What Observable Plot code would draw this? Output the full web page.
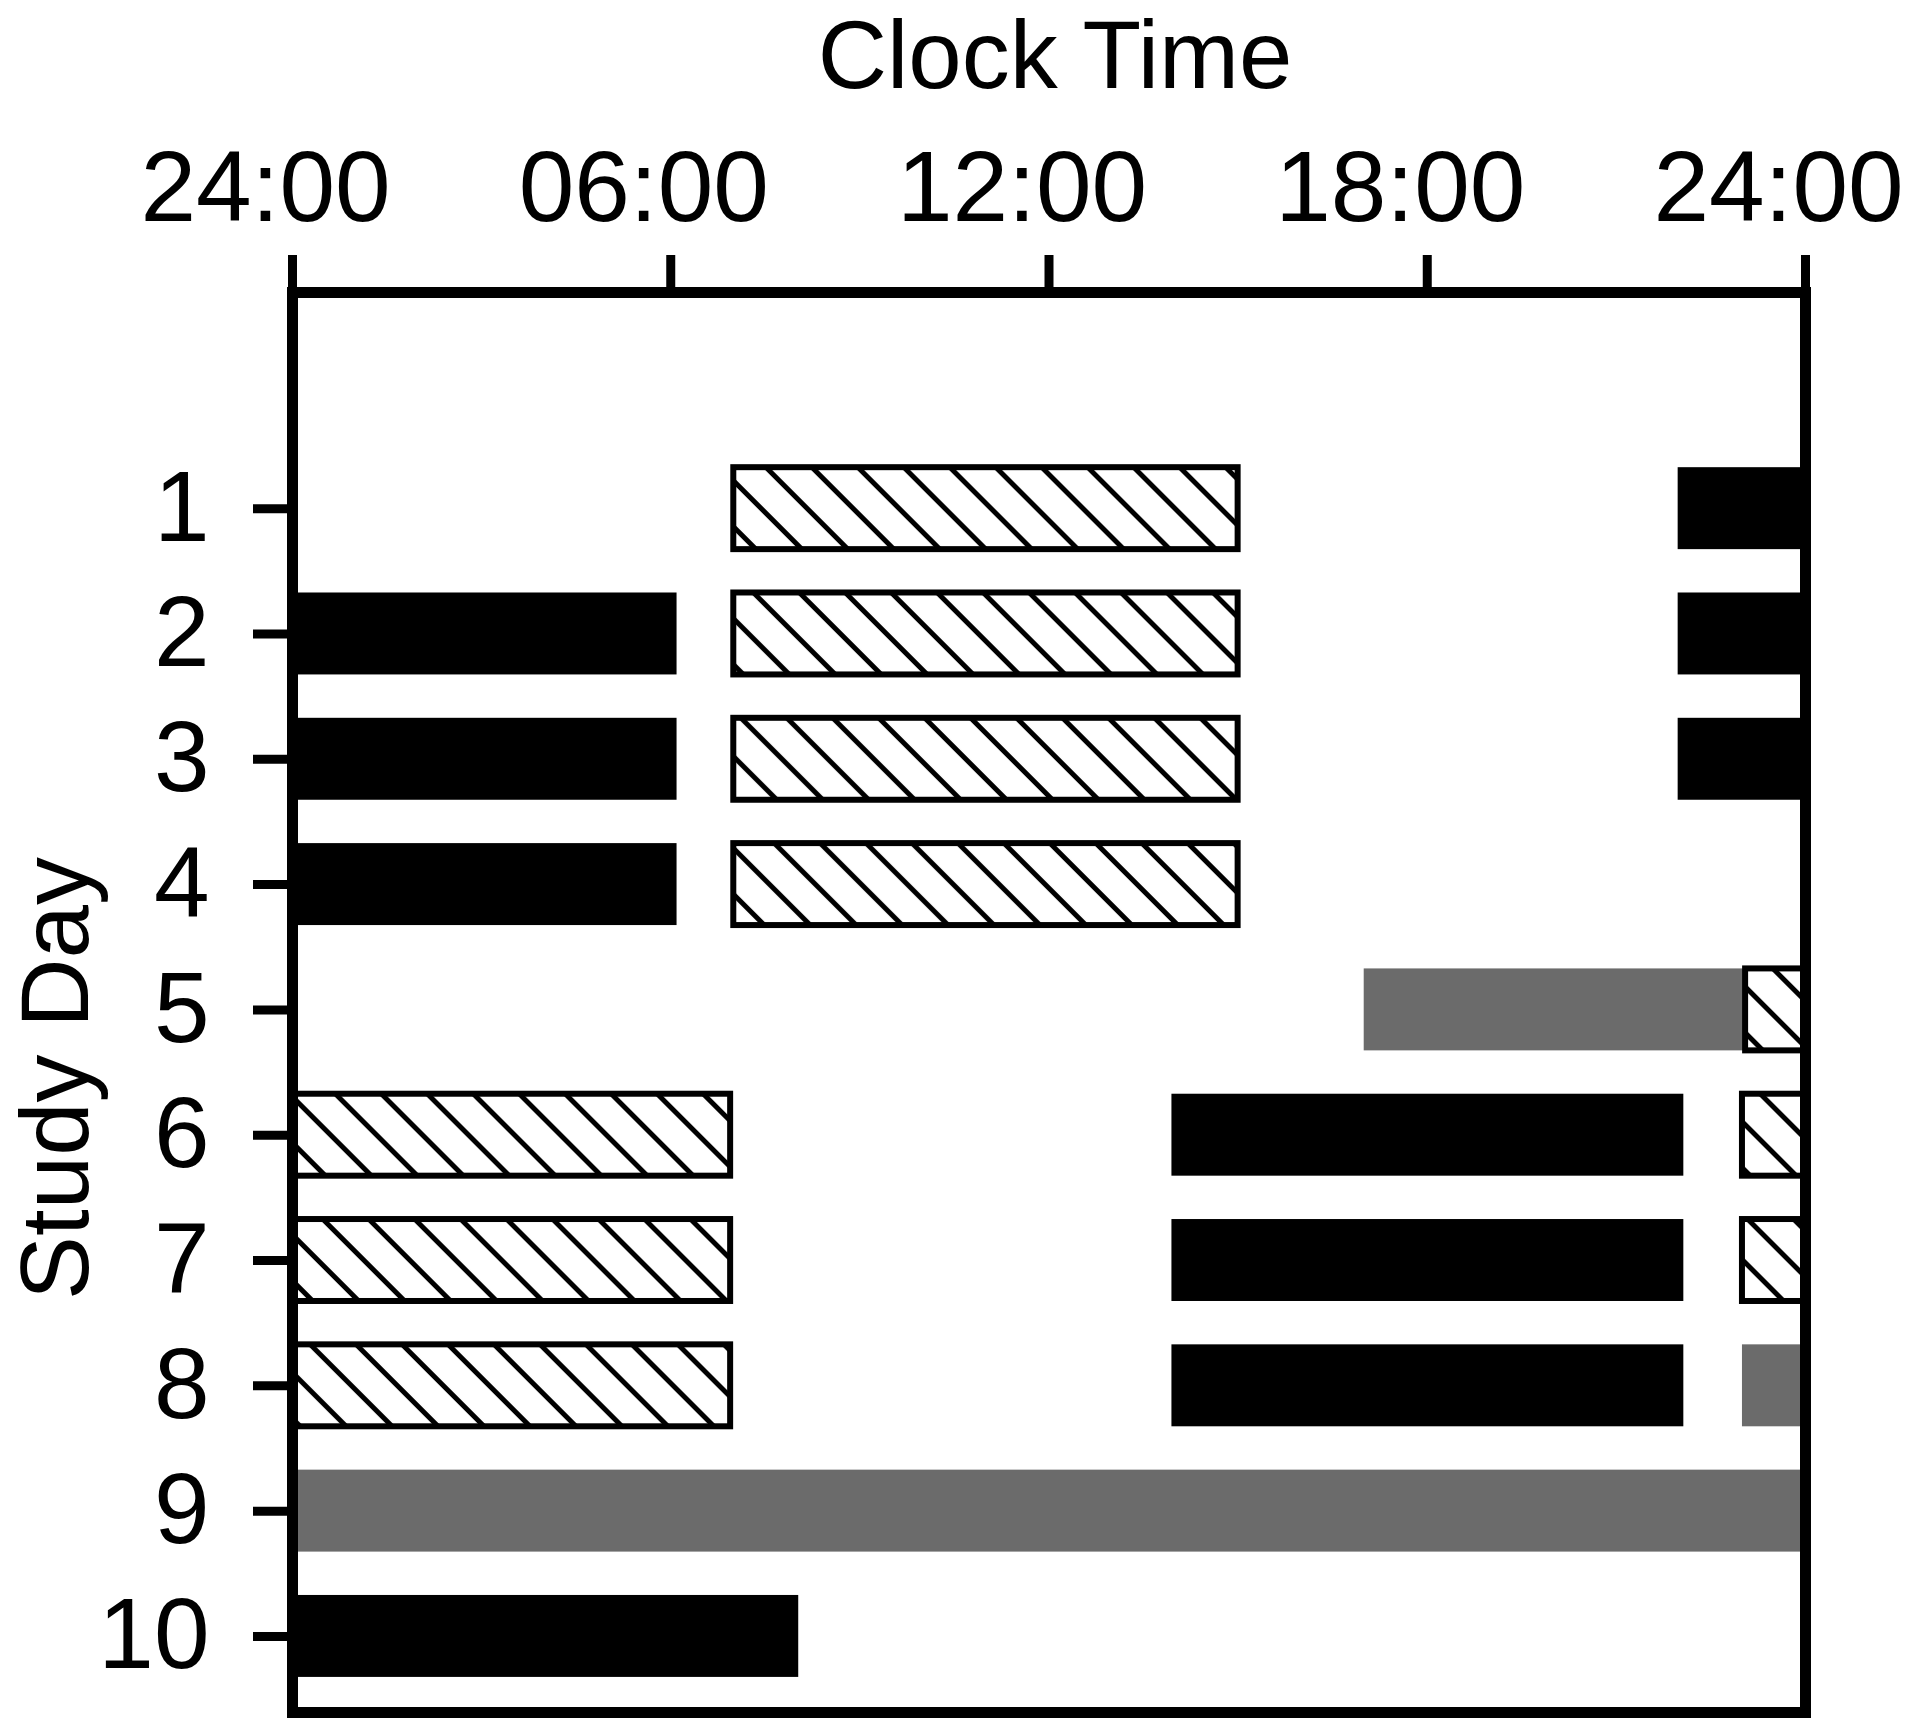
<!DOCTYPE html>
<html><head><meta charset="utf-8">
<script src="https://cdn.jsdelivr.net/npm/d3@7"></script>
<script src="https://cdn.jsdelivr.net/npm/@observablehq/plot@0.6"></script>
<style>html,body{margin:0;padding:0;background:#fff;}</style>
</head><body><div id="chart"></div>
<script>
// ---- data ----
const days = [1, 2, 3, 4, 5, 6, 7, 8, 9, 10];
const hourTicks = [0, 6, 12, 18, 24];
const hourTickLabels = ["24:00", "06:00", "12:00", "18:00", "24:00"];

// black bars
const sleepDay   = [1, 2, 2, 3, 3, 4, 6, 7, 8, 10];
const sleepStart = [21.98, 0, 21.98, 0, 21.98, 0, 13.95, 13.95, 13.95, 0];
const sleepEnd   = [24, 6.1, 24, 6.1, 24, 6.1, 22.07, 22.07, 22.07, 8.03];

// hatched bars
const workDay   = [1, 2, 3, 4, 5, 6, 6, 7, 7, 8];
const workStart = [7, 7, 7, 7, 23.05, 0, 23.0, 0, 23.0, 0];
const workEnd   = [15, 15, 15, 15, 24, 6.95, 24, 6.95, 24, 6.95];

// grey bars
const greyDay   = [5, 8, 9];
const greyStart = [17.0, 23.0, 0];
const greyEnd   = [23.03, 24, 24];

const rows = (d, s, e) => d.map((day, i) => ({day, start: s[i], end: e[i]}));
const sleep = rows(sleepDay, sleepStart, sleepEnd);
const work = rows(workDay, workStart, workEnd);
const grey = rows(greyDay, greyStart, greyEnd);

const H = 0.327;
const FS = 100;
const LFS = 96;
const bar = {x1: "start", x2: "end", y1: d => d.day - H, y2: d => d.day + H};

const chart = Plot.plot({
  width: 1906, height: 1724,
  marginLeft: 292, marginRight: 101, marginTop: 292, marginBottom: 12,
  style: {fontFamily: "'Liberation Sans', Arial, sans-serif", fontSize: FS + "px", background: "#fff", color: "#000"},
  x: {domain: [0, 24]},
  y: {domain: [-0.725, 10.607], reverse: true},
  marks: [
    Plot.rect(grey, {...bar, fill: "#6b6b6b"}),
    Plot.rect(sleep, {...bar, fill: "#000"}),
    Plot.rect(work, {...bar, fill: "url(#hatch)", stroke: "#000", strokeWidth: 6}),
    Plot.axisX({anchor: "top", ticks: hourTicks, tickSize: 38, strokeWidth: 9, fill: null, label: null}),
    Plot.axisX({anchor: "top", ticks: hourTicks, tickSize: 0, tickPadding: 72, dx: -27, fontSize: FS,
      tickFormat: d => hourTickLabels[hourTicks.indexOf(d)], label: null}),
    Plot.axisY({anchor: "left", ticks: days, tickSize: 39, tickPadding: 44, strokeWidth: 9, fontSize: FS,
      tickFormat: d => String(d), label: null}),
    Plot.frame({stroke: "#000", strokeWidth: 11}),
    Plot.text(["Clock Time"], {text: d => d, frameAnchor: "top", dy: -205, dx: 6, lineAnchor: "bottom", fontSize: LFS}),
    Plot.text(["Study Day"], {text: d => d, frameAnchor: "left", rotate: -90, dx: -205, dy: 76,
      lineAnchor: "bottom", textAnchor: "middle", fontSize: LFS})
  ]
});

const svgEl = chart.tagName.toLowerCase() === "svg" ? chart : chart.querySelector("svg");
const defs = d3.select(svgEl).insert("defs", ":first-child");
const P = 32.5;
const pat = defs.append("pattern").attr("id", "hatch").attr("patternUnits", "userSpaceOnUse")
  .attr("width", P).attr("height", P).attr("patternTransform", "rotate(-45)");
pat.append("rect").attr("width", P).attr("height", P).attr("fill", "#fff");
pat.append("line").attr("x1", P / 2).attr("y1", 0).attr("x2", P / 2).attr("y2", P)
  .attr("stroke", "#000").attr("stroke-width", 5);

document.getElementById("chart").appendChild(chart);
</script>
</body></html>
